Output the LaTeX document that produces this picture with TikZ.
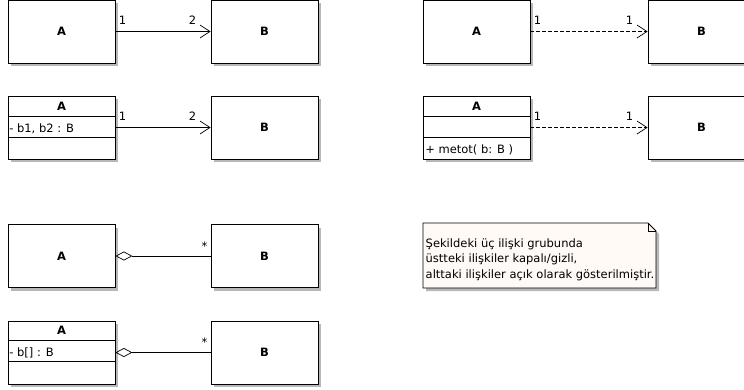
\documentclass[tikz,border=0pt]{standalone}
\usepackage{fontspec}
\setmainfont{DejaVu Sans}
\usetikzlibrary{arrows.meta,shadows,calc}

\definecolor{notefill}{RGB}{255,250,246}

\tikzset{
  classbox/.style={draw, fill=white, line width=0.8pt, minimum width=107pt, minimum height=63pt,
    inner sep=0pt, general shadow={fill=black!28, shadow xshift=3pt, shadow yshift=-3pt}},
  classname/.style={font=\fontsize{11.5}{13}\selectfont\bfseries, inner sep=0pt},
  member/.style={font=\fontsize{11.5}{13}\selectfont, inner sep=0pt, anchor=base west},
  mult/.style={font=\fontsize{11.5}{13}\selectfont, inner sep=0pt},
  navlink/.style={line width=0.7pt, -{Straight Barb[length=10pt,width=13pt,line width=0.7pt]}},
  deplink/.style={navlink, dash pattern=on 4pt off 2pt},
  agglink/.style={line width=0.7pt, {Diamond[open,length=17pt,width=9pt,line width=0.7pt]}-}
}

\begin{document}
\begin{tikzpicture}[x=1pt,y=-1pt]
  \useasboundingbox (0,0) rectangle (744,389);

  % Hidden association (top left)
  \node[classbox] (a1) at (61.5,31.5) {};
  \node[classname] (a1name) at (a1) {A};
  \node[classbox] (b1) at (264.5,31.5) {};
  \node[classname] (b1name) at (b1) {B};
  \draw[navlink] (a1.east) -- (b1.west)
    node[mult, pos=0, anchor=base west, xshift=3pt, yshift=7pt] {1}
    node[mult, pos=1, anchor=base east, xshift=-14pt, yshift=7pt] {2};

  % Open association (attributes shown)
  \node[classbox] (a2) at (61.5,127.5) {};
  \draw[line width=0.8pt] ($(a2.north west)+(0,21)$) -- ($(a2.north east)+(0,21)$);
  \draw[line width=0.8pt] ($(a2.north west)+(0,42)$) -- ($(a2.north east)+(0,42)$);
  \node[classname] (a2name) at ($(a2.north)+(0,10.5)$) {A};
  \node[member] (a2attr) at ($(a2.north west)+(1.5,37)$) {- b1, b2 : B};
  \node[classbox] (b2) at (264.5,127.5) {};
  \node[classname] (b2name) at (b2) {B};
  \draw[navlink] (a2.east) -- (b2.west)
    node[mult, pos=0, anchor=base west, xshift=3pt, yshift=7pt] {1}
    node[mult, pos=1, anchor=base east, xshift=-14pt, yshift=7pt] {2};

  % Hidden dependency (top right)
  \node[classbox] (a3) at (476.5,31.5) {};
  \node[classname] (a3name) at (a3) {A};
  \node[classbox] (b3) at (701.5,31.5) {};
  \node[classname] (b3name) at (b3) {B};
  \draw[deplink] (a3.east) -- (b3.west)
    node[mult, pos=0, anchor=base west, xshift=3pt, yshift=7pt] {1}
    node[mult, pos=1, anchor=base east, xshift=-14pt, yshift=7pt] {1};

  % Open dependency (operation shown)
  \node[classbox] (a4) at (476.5,127.5) {};
  \draw[line width=0.8pt] ($(a4.north west)+(0,21)$) -- ($(a4.north east)+(0,21)$);
  \draw[line width=0.8pt] ($(a4.north west)+(0,42)$) -- ($(a4.north east)+(0,42)$);
  \node[classname] (a4name) at ($(a4.north)+(0,10.5)$) {A};
  \node[member] (a4op) at ($(a4.north west)+(2.5,58)$) {+ metot( b: B )};
  \node[classbox] (b4) at (701.5,127.5) {};
  \node[classname] (b4name) at (b4) {B};
  \draw[deplink] (a4.east) -- (b4.west)
    node[mult, pos=0, anchor=base west, xshift=3pt, yshift=7pt] {1}
    node[mult, pos=1, anchor=base east, xshift=-14pt, yshift=7pt] {1};

  % Hidden aggregation
  \node[classbox] (a5) at (61.5,256) {};
  \node[classname] (a5name) at (a5) {A};
  \node[classbox] (b5) at (264.5,256) {};
  \node[classname] (b5name) at (b5) {B};
  \draw[agglink] (a5.east) -- (b5.west)
    node[mult, pos=1, anchor=base east, xshift=-3pt, yshift=6pt] {*};

  % Open aggregation (array attribute)
  \node[classbox] (a6) at (61.5,352.5) {};
  \draw[line width=0.8pt] ($(a6.north west)+(0,20)$) -- ($(a6.north east)+(0,20)$);
  \draw[line width=0.8pt] ($(a6.north west)+(0,41)$) -- ($(a6.north east)+(0,41)$);
  \node[classname] (a6name) at ($(a6.north)+(0,10)$) {A};
  \node[member] (a6attr) at ($(a6.north west)+(1.5,36)$) {- b[] : B};
  \node[classbox] (b6) at (264.5,352.5) {};
  \node[classname] (b6name) at (b6) {B};
  \draw[agglink] (a6.east) -- (b6.west)
    node[mult, pos=1, anchor=base east, xshift=-3pt, yshift=6pt] {*};

  % Note
  \draw[line width=0.8pt, fill=notefill, general shadow={fill=black!28, shadow xshift=3pt, shadow yshift=-3pt}]
    (423,223) -- (648,223) -- (656,231) -- (656,288) -- (423,288) -- cycle;
  \draw[line width=0.6pt] (648,223) -- (648,231) -- (656,231);
  \node[font=\fontsize{11.5}{15.5}\selectfont, align=left, inner sep=0pt, anchor=north west] (notetext) at (425.5,238.5)
    {Şekildeki üç ilişki grubunda\\üstteki ilişkiler kapalı/gizli,\\alttaki ilişkiler açık olarak gösterilmiştir.};
\end{tikzpicture}
\end{document}
